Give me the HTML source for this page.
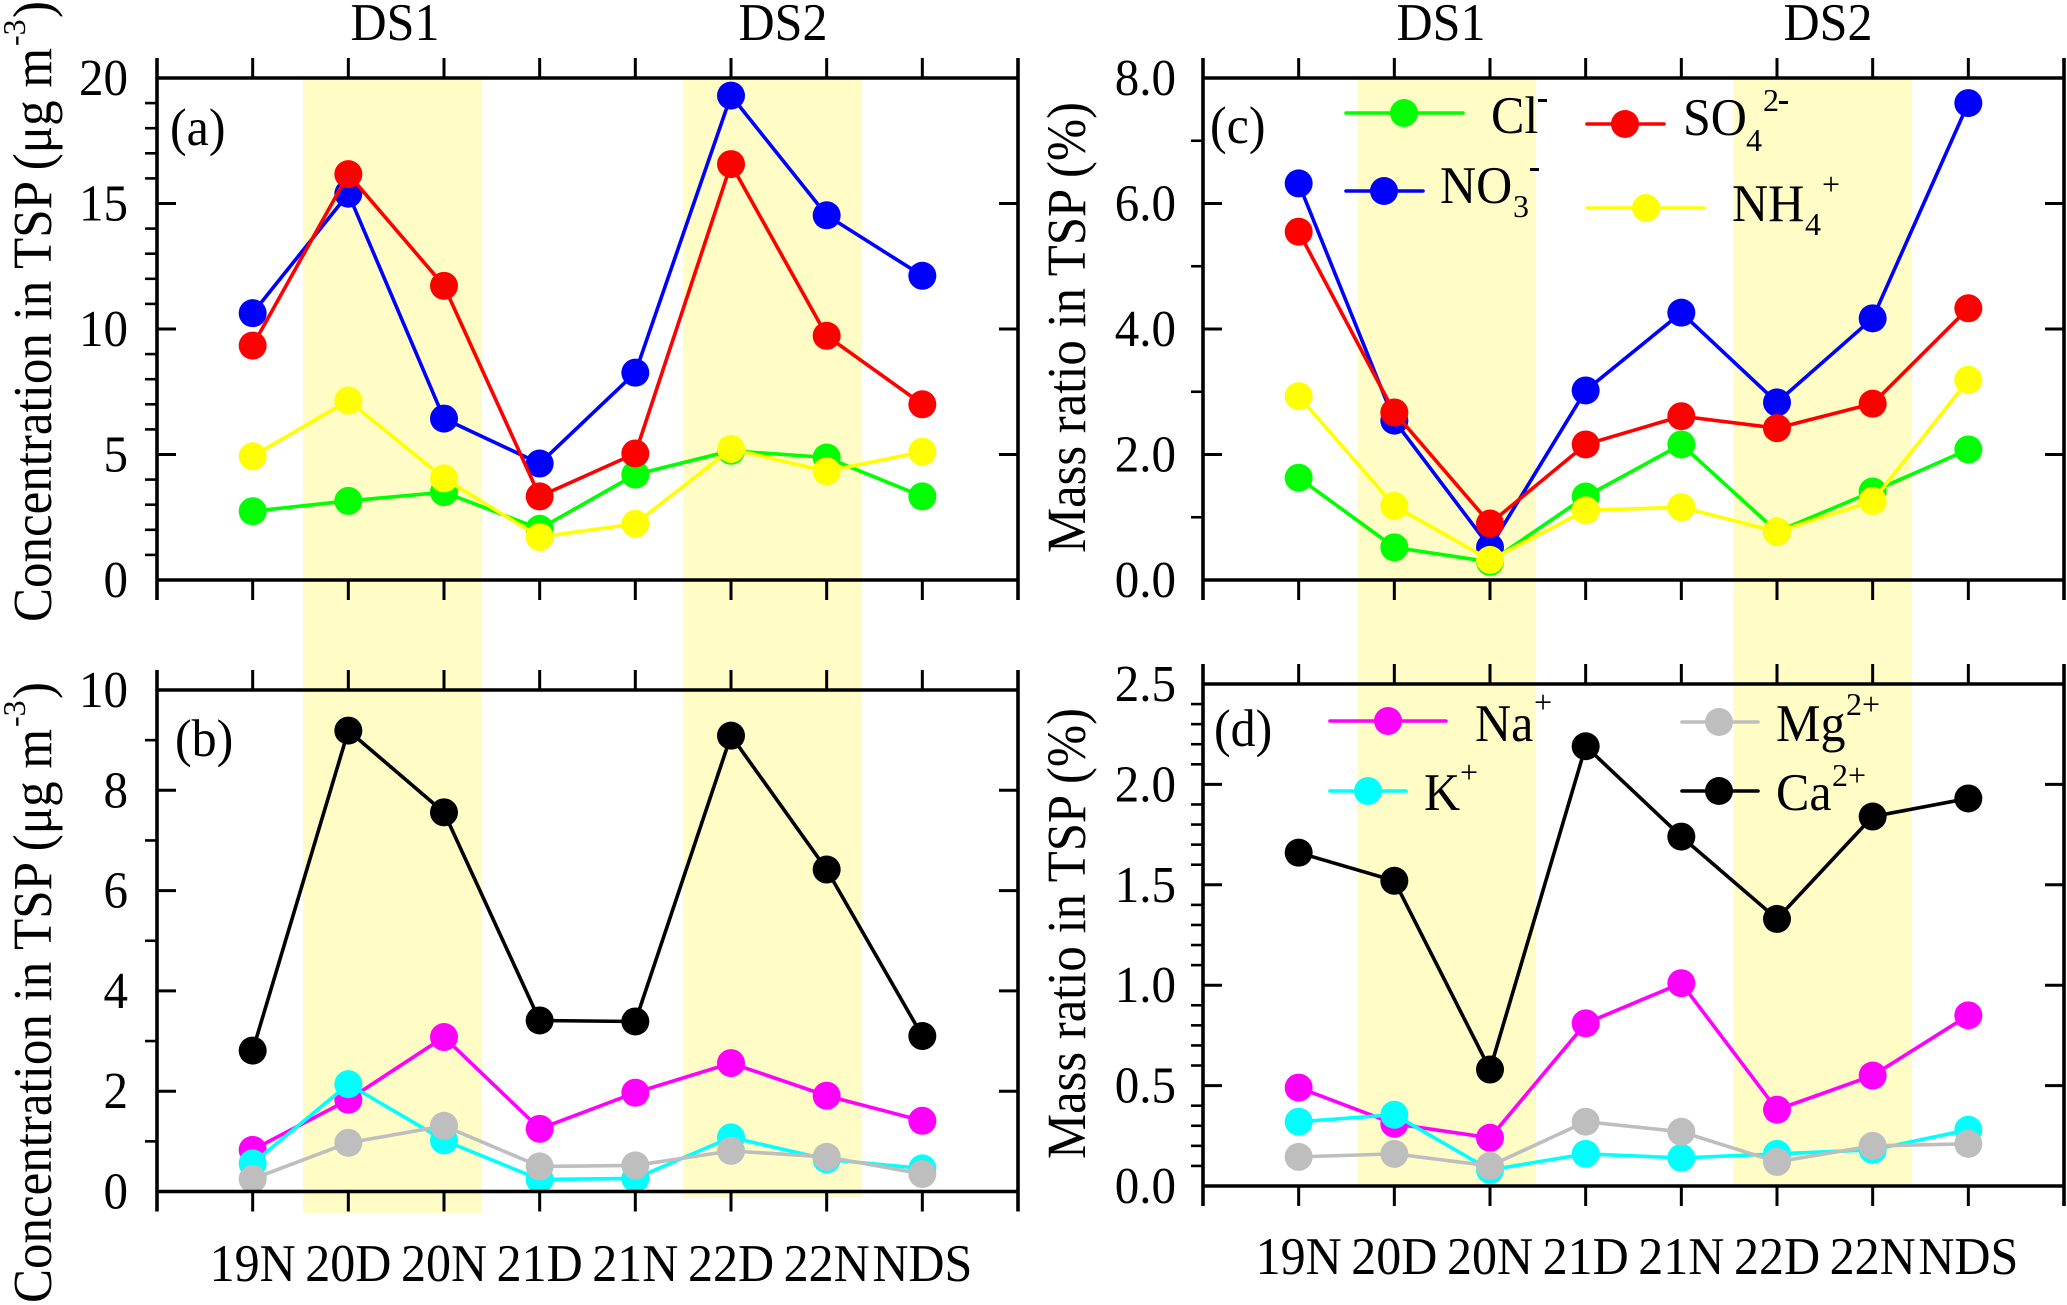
<!DOCTYPE html>
<html lang="en">
<head>
<meta charset="utf-8">
<title>Ion concentrations and mass ratios in TSP</title>
<style>
html,body{margin:0;padding:0;background:#fff;width:2067px;height:1305px;overflow:hidden}
svg{display:block}
text{font-family:"Liberation Serif",serif;fill:#000}
</style>
</head>
<body>
<svg id="chart" xmlns="http://www.w3.org/2000/svg" width="2067" height="1305" viewBox="0 0 2067 1305">
  <rect x="0" y="0" width="2067" height="1305" fill="#fff"/>
  <g id="bands">
    <rect x="303" y="79" width="179" height="1134" fill="#fffdc5"/>
    <rect x="683" y="79" width="179" height="1119" fill="#fffdc5"/>
    <rect x="1357.5" y="79" width="178.5" height="1105" fill="#fffdc5"/>
    <rect x="1733.5" y="79" width="178.5" height="1105" fill="#fffdc5"/>
  </g>
  <g id="panels"></g>
  <g id="static-text" font-size="50">
    <text transform="translate(395,40) scale(1,1.06)" text-anchor="middle">DS1</text>
    <text transform="translate(783,40) scale(1,1.06)" text-anchor="middle">DS2</text>
    <text transform="translate(1441,40) scale(1,1.06)" text-anchor="middle">DS1</text>
    <text transform="translate(1828,40) scale(1,1.06)" text-anchor="middle">DS2</text>
    <text transform="translate(170,145) scale(1,1.06)">(a)</text>
    <text transform="translate(175,756) scale(1,1.06)">(b)</text>
    <text transform="translate(1210,143) scale(1,1.06)">(c)</text>
    <text transform="translate(1214,746) scale(1,1.06)">(d)</text>

    <g>
      <text transform="translate(51,622) rotate(-90) scale(1,1.08)" font-size="51" textLength="574" lengthAdjust="spacingAndGlyphs">Concentration in TSP (μg m</text>
      <text transform="translate(25,46) rotate(-90)" font-size="32">-3</text>
      <text transform="translate(51,18) rotate(-90) scale(1,1.08)" font-size="51">)</text>
    </g>
    <g>
      <text transform="translate(51,1303) rotate(-90) scale(1,1.08)" font-size="51" textLength="574" lengthAdjust="spacingAndGlyphs">Concentration in TSP (μg m</text>
      <text transform="translate(25,727) rotate(-90)" font-size="32">-3</text>
      <text transform="translate(51,699) rotate(-90) scale(1,1.08)" font-size="51">)</text>
    </g>
    <text transform="translate(1085,553) rotate(-90) scale(1,1.08)" font-size="51" textLength="451" lengthAdjust="spacingAndGlyphs">Mass ratio in TSP (%)</text>
    <text transform="translate(1085,1159) rotate(-90) scale(1,1.08)" font-size="51" textLength="451" lengthAdjust="spacingAndGlyphs">Mass ratio in TSP (%)</text>

    <g>
      <text transform="translate(1491,133) scale(1,1.06)" font-size="50">Cl</text>
      <rect x="1538" y="99" width="9" height="3" fill="#000"/>
    </g>
    <g>
      <text transform="translate(1683,135) scale(1,1.06)" font-size="50">SO</text>
      <text x="1746" y="151" font-size="32">4</text>
      <text x="1763" y="111" font-size="32">2</text>
      <rect x="1779" y="101" width="9" height="3" fill="#000"/>
    </g>
    <g>
      <text transform="translate(1440,203) scale(1,1.06)" font-size="50">NO</text>
      <text x="1513" y="217" font-size="32">3</text>
      <rect x="1530" y="168" width="9" height="3" fill="#000"/>
    </g>
    <g>
      <text transform="translate(1732,221) scale(1,1.06)" font-size="50">NH</text>
      <text x="1805" y="235" font-size="32">4</text>
      <text x="1822" y="195" font-size="32">+</text>
    </g>
    <g>
      <text transform="translate(1475,741) scale(1,1.06)" font-size="50">Na</text>
      <text x="1534" y="713" font-size="32">+</text>
    </g>
    <g>
      <text transform="translate(1776,741) scale(1,1.06)" font-size="50">Mg</text>
      <text x="1846" y="715" font-size="32">2+</text>
    </g>
    <g>
      <text transform="translate(1424,810) scale(1,1.06)" font-size="50">K</text>
      <text x="1460" y="783" font-size="32">+</text>
    </g>
    <g>
      <text transform="translate(1776,810) scale(1,1.06)" font-size="50">Ca</text>
      <text x="1832" y="786" font-size="32">2+</text>
    </g>
  </g>
</svg>
<script>
// Shared categories
const categories = ['19N', '20D', '20N', '21D', '21N', '22D', '22N', 'NDS'];

// Panel (a) concentration, µg m-3
const aCl = [2.74, 3.15, 3.50, 2.04, 4.20, 5.15, 4.88, 3.33];
const aNO3 = [10.63, 15.39, 6.43, 4.64, 8.26, 19.30, 14.53, 12.12];
const aSO4 = [9.34, 16.17, 11.72, 3.33, 5.04, 16.57, 9.73, 7.00];
const aNH4 = [4.93, 7.15, 4.05, 1.71, 2.24, 5.22, 4.33, 5.11];
const aTicks = ['0', '5', '10', '15', '20'];

// Panel (b) concentration, µg m-3
const bNa = [0.83, 1.83, 3.08, 1.25, 1.97, 2.56, 1.91, 1.41];
const bK = [0.56, 2.14, 1.02, 0.24, 0.26, 1.08, 0.64, 0.46];
const bMg = [0.25, 0.97, 1.31, 0.50, 0.52, 0.81, 0.69, 0.35];
const bCa = [2.81, 9.19, 7.56, 3.41, 3.39, 9.09, 6.42, 3.10];
const bTicks = ['0', '2', '4', '6', '8', '10'];

// Panel (c) mass ratio, %
const cCl = [1.63, 0.52, 0.29, 1.33, 2.16, 0.77, 1.41, 2.08];
const cNO3 = [6.32, 2.54, 0.52, 3.02, 4.26, 2.83, 4.17, 7.60];
const cSO4 = [5.55, 2.67, 0.90, 2.16, 2.61, 2.42, 2.81, 4.33];
const cNH4 = [2.93, 1.18, 0.32, 1.11, 1.16, 0.77, 1.26, 3.19];
const cTicks = ['0.0', '2.0', '4.0', '6.0', '8.0'];

// Panel (d) mass ratio, %
const dNa = [0.49, 0.31, 0.24, 0.81, 1.01, 0.38, 0.55, 0.85];
const dK = [0.32, 0.355, 0.08, 0.16, 0.14, 0.16, 0.18, 0.28];
const dMg = [0.145, 0.16, 0.10, 0.32, 0.27, 0.12, 0.20, 0.21];
const dCa = [1.66, 1.52, 0.58, 2.19, 1.74, 1.33, 1.84, 1.93];
const dTicks = ['0.0', '0.5', '1.0', '1.5', '2.0', '2.5'];

const SVGNS = 'http://www.w3.org/2000/svg';
const root = document.getElementById('panels');

function make(parent, tag, attrs, text) {
  const el = document.createElementNS(SVGNS, tag);
  for (const k in attrs) el.setAttribute(k, attrs[k]);
  if (text !== undefined) el.textContent = text;
  parent.appendChild(el);
  return el;
}

function drawPanel(id, box, ticks, minorStep, series, showCategories) {
  const g = make(root, 'g', {});
  
  

  const yMax = parseFloat(ticks[ticks.length - 1]);
  const yMin = parseFloat(ticks[0]);
  const slots = categories.length + 1;
  const xScale = i => box.left + (i + 1) * (box.right - box.left) / slots;
  const yScale = v => box.bottom - (v - yMin) * (box.bottom - box.top) / (yMax - yMin);

  // series
  for (const s of series) {
    const sg = make(g, 'g', {});
    
    
    const line = make(sg, 'polyline', {
      points: s.values.map((v, i) => xScale(i) + ',' + yScale(v)).join(' '),
      fill: 'none', stroke: s.color, 'stroke-width': 3.6
    });
    
    
    s.values.forEach((v, i) => {
      const dot = make(sg, 'circle', { cx: xScale(i), cy: yScale(v), r: 14, fill: s.color });
      
      
    });
  }

  // frame and ticks
  const axes = make(g, 'g', { stroke: '#000', fill: 'none' });
  
  
  make(axes, 'line', { x1: box.left, x2: box.right, y1: box.top, y2: box.top, 'stroke-width': 3.6 });
  make(axes, 'line', { x1: box.left, x2: box.right, y1: box.bottom, y2: box.bottom, 'stroke-width': 3.6 });
  make(axes, 'line', { x1: box.left, x2: box.left, y1: box.top - 20, y2: box.bottom + 20, 'stroke-width': 3.6 });
  make(axes, 'line', { x1: box.right, x2: box.right, y1: box.top - 20, y2: box.bottom + 20, 'stroke-width': 3.6 });
  categories.forEach((c, i) => {
    make(axes, 'line', { x1: xScale(i), x2: xScale(i), y1: box.top - 20, y2: box.top, 'stroke-width': 3 });
    make(axes, 'line', { x1: xScale(i), x2: xScale(i), y1: box.bottom, y2: box.bottom + 20, 'stroke-width': 3 });
  });

  // y ticks
  ticks.forEach(t => {
    const v = parseFloat(t);
    const y = yScale(v);
    if (v > yMin && v < yMax) {
      make(axes, 'line', { x1: box.left, x2: box.left + 19, y1: y, y2: y, 'stroke-width': 3 });
      make(axes, 'line', { x1: box.right, x2: box.right - 19, y1: y, y2: y, 'stroke-width': 3 });
    }
    const lab = make(g, 'text', { transform: 'translate(' + box.labelRight + ',' + (y + 17) + ') scale(1,1.06)', 'text-anchor': 'end', 'font-size': 49 }, t);
    
    
  });
  const majorStep = parseFloat(ticks[1]) - yMin;
  const nMinor = Math.round((yMax - yMin) / minorStep);
  const every = Math.round(majorStep / minorStep);
  for (let k = 1; k < nMinor; k++) {
    if (k % every === 0) continue;
    const y = yScale(yMin + k * minorStep);
    make(axes, 'line', { x1: box.left - 12, x2: box.left, y1: y, y2: y, 'stroke-width': 2.6 });
  }

  if (showCategories) {
    categories.forEach((c, i) => {
      const lab = make(g, 'text', { transform: 'translate(' + xScale(i) + ',' + box.catBaseline + ') scale(1,1.06)', 'text-anchor': 'middle', 'font-size': 50 }, c);
      
      
    });
  }
}

drawPanel('a', { left: 157, right: 1018, top: 78, bottom: 580, labelRight: 128 }, aTicks, 1, [
  { name: 'cl', color: '#00ff00', values: aCl },
  { name: 'no3', color: '#0000ff', values: aNO3 },
  { name: 'so4', color: '#ff0000', values: aSO4 },
  { name: 'nh4', color: '#ffff00', values: aNH4 }
], false);

drawPanel('b', { left: 157, right: 1018, top: 690, bottom: 1191.5, labelRight: 128, catBaseline: 1281 }, bTicks, 1, [
  { name: 'na', color: '#ff00ff', values: bNa },
  { name: 'k', color: '#00ffff', values: bK },
  { name: 'mg', color: '#bebebe', values: bMg },
  { name: 'ca', color: '#000000', values: bCa }
], true);

drawPanel('c', { left: 1203, right: 2064, top: 78, bottom: 580, labelRight: 1176 }, cTicks, 1, [
  { name: 'cl', color: '#00ff00', values: cCl },
  { name: 'no3', color: '#0000ff', values: cNO3 },
  { name: 'so4', color: '#ff0000', values: cSO4 },
  { name: 'nh4', color: '#ffff00', values: cNH4 }
], false);

drawPanel('d', { left: 1203, right: 2064, top: 684, bottom: 1186, labelRight: 1176, catBaseline: 1274 }, dTicks, 0.1, [
  { name: 'na', color: '#ff00ff', values: dNa },
  { name: 'k', color: '#00ffff', values: dK },
  { name: 'mg', color: '#bebebe', values: dMg },
  { name: 'ca', color: '#000000', values: dCa }
], true);

// Legends
function legendKey(name, color, x1, x2, y, mx) {
  const g = make(root, 'g', {});
  
  
  make(g, 'line', { x1: x1, x2: x2, y1: y, y2: y, stroke: color, 'stroke-width': 3.6, 'stroke-linecap': 'round' });
  make(g, 'circle', { cx: mx, cy: y, r: 14, fill: color });
}
legendKey('cl', '#00ff00', 1346, 1463, 113, 1404);
legendKey('so4', '#ff0000', 1587, 1664, 124, 1625);
legendKey('no3', '#0000ff', 1346, 1423, 191, 1384);
legendKey('nh4', '#ffff00', 1587, 1704, 208, 1646);
legendKey('na', '#ff00ff', 1330, 1446, 721, 1388);
legendKey('mg', '#bebebe', 1682, 1758, 722, 1719);
legendKey('k', '#00ffff', 1330, 1406, 791, 1368);
legendKey('ca', '#000000', 1682, 1758, 791, 1719);
</script>
</body>
</html>
